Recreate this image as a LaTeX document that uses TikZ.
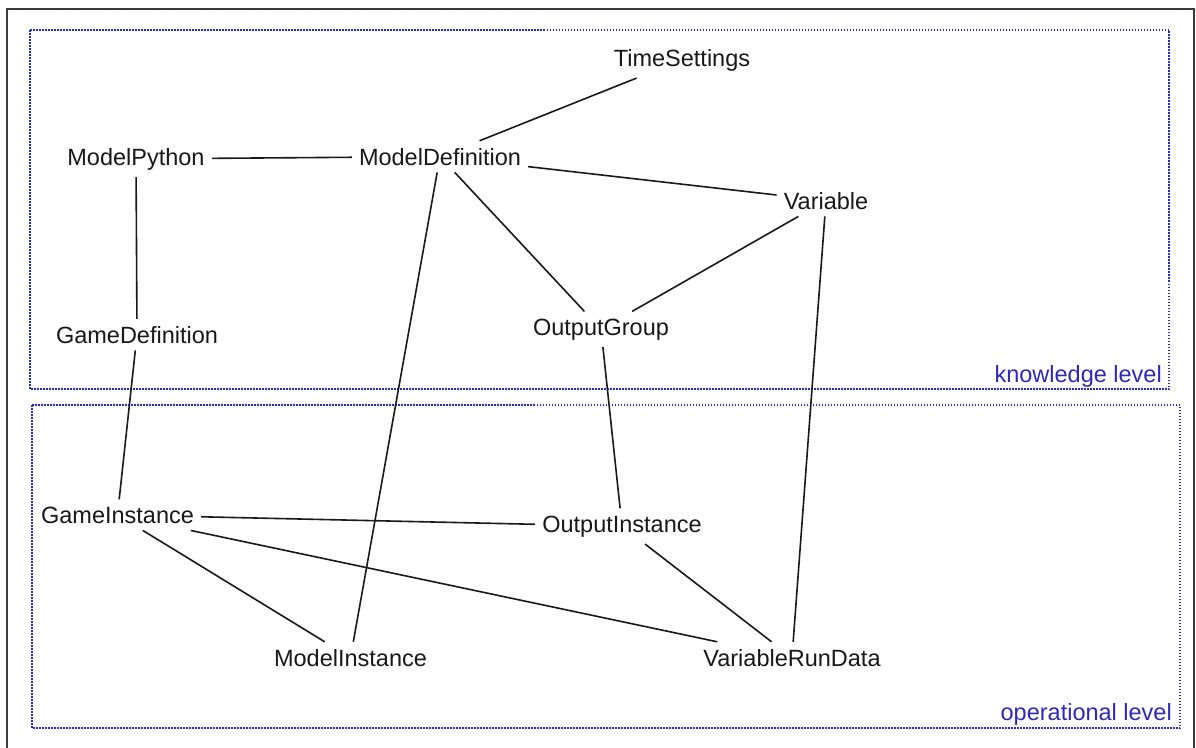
\documentclass[tikz,border=0pt]{standalone}
\usepackage{fontspec}
\setmainfont{Liberation Sans}
\definecolor{lvlblue}{RGB}{48,40,190}
\definecolor{boxblue}{RGB}{40,40,210}
\definecolor{frame}{RGB}{60,60,60}
\definecolor{linec}{RGB}{25,25,25}
\begin{document}
\begin{tikzpicture}[x=1pt,y=-1pt,
  cls/.style={font=\fontsize{23.5}{28}\selectfont, text=black!90, inner xsep=7pt, inner ysep=7pt, anchor=base},
  lvl/.style={font=\fontsize{23.5}{28}\selectfont, text=lvlblue, inner sep=0pt, anchor=base east},
  levelbox/.style={draw=boxblue, line width=1.8pt, dash pattern=on 1.5pt off 1.5pt},
  assoc/.style={draw=linec, line width=1.6pt}]
\useasboundingbox (0,0) rectangle (1196,747);
\fill[white] (0,0) rectangle (1196,747);
% outer frame
\draw[frame, line width=1.6pt] (7,760) -- (7,9) -- (1194,9) -- (1194,760);
% level boxes
\draw[levelbox] (30,30) rectangle (1169,389);
\draw[levelbox] (32,405) rectangle (1180,728);
\node[lvl] (kl) at (1162,382) {knowledge level};
\node[lvl] (ol) at (1172,720) {operational level};
% classes
\node[cls] (ts) at (682,66) {TimeSettings};
\node[cls] (mp) at (136,165) {ModelPython};
\node[cls] (md) at (440,165) {ModelDefinition};
\node[cls] (va) at (826,209) {Variable};
\node[cls] (gd) at (137,343) {GameDefinition};
\node[cls] (og) at (601,335) {OutputGroup};
\node[cls] (gi) at (117.5,523) {GameInstance};
\node[cls] (oi) at (622,532) {OutputInstance};
\node[cls] (mi) at (350.5,666) {ModelInstance};
\node[cls] (vr) at (792,666) {VariableRunData};
% associations
\draw[assoc] (ts) -- (md);
\draw[assoc] (mp) -- (md);
\draw[assoc] (md) -- (va);
\draw[assoc] (md) -- (og);
\draw[assoc] (md) -- (mi);
\draw[assoc] (va) -- (og);
\draw[assoc] (va) -- (vr);
\draw[assoc] (mp) -- (gd);
\draw[assoc] (gd) -- (gi);
\draw[assoc] (og) -- (oi);
\draw[assoc] (gi) -- (oi);
\draw[assoc] (gi) -- (vr);
\draw[assoc] (gi) -- (mi);
\draw[assoc] (oi) -- (vr);
\end{tikzpicture}
\end{document}
